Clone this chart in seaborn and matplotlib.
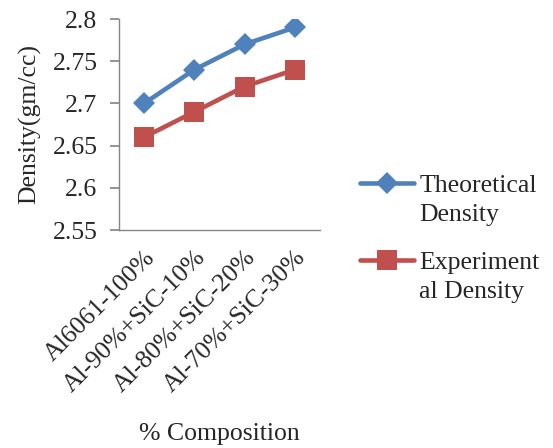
import matplotlib
matplotlib.use("Agg")
import matplotlib.pyplot as plt
from matplotlib.lines import Line2D
import seaborn as sns
import pandas as pd

compositions = ["Al6061-100%", "Al-90%+SiC-10%", "Al-80%+SiC-20%", "Al-70%+SiC-30%"]
theoretical = [2.70, 2.74, 2.77, 2.79]
experimental = [2.66, 2.69, 2.72, 2.74]
series_names = ["Theoretical Density", "Experimental Density"]
legend_lines = [["Theoretical", "Density"], ["Experiment", "al Density"]]
y_ticks = [2.55, 2.6, 2.65, 2.7, 2.75, 2.8]
y_tick_labels = ["2.55", "2.6", "2.65", "2.7", "2.75", "2.8"]

df = pd.DataFrame({
    "Composition": compositions * 2,
    "Density": theoretical + experimental,
    "Series": [series_names[0]] * 4 + [series_names[1]] * 4,
})
df["pos"] = list(range(len(compositions))) * 2

sns.set_theme(style="white")
plt.rcParams["font.family"] = ["Liberation Serif", "DejaVu Serif"]

FS = 18.5
fig = plt.figure(figsize=(5.53, 4.48), dpi=100)
ax = fig.add_axes([119 / 553, 1 - 230 / 448, 201 / 553, 211 / 448])

palette = {series_names[0]: "#4F81BD", series_names[1]: "#C0504D"}
markers = {series_names[0]: "D", series_names[1]: "s"}
sizes_ms = {series_names[0]: 11, series_names[1]: 14}

for name in series_names:
    sub = df[df["Series"] == name]
    sns.lineplot(data=sub, x="pos", y="Density", ax=ax, color=palette[name],
                 marker=markers[name], markersize=sizes_ms[name], linewidth=3.3,
                 markeredgewidth=0, label=name)

ax.set_xlim(-0.5, len(compositions) - 0.5)
ax.set_ylim(2.55, 2.8)
ax.set_yticks(y_ticks)
ax.set_yticklabels(y_tick_labels, fontsize=FS)
ax.set_xticks(range(len(compositions)))
ax.set_xticklabels(compositions, rotation=45, ha="right", rotation_mode="anchor", fontsize=FS)
ax.set_xlabel("% Composition", fontsize=FS, labelpad=19)
ax.set_ylabel("Density(gm/cc)", fontsize=FS, labelpad=8)

for side in ["top", "right"]:
    ax.spines[side].set_visible(False)
for side in ["left", "bottom"]:
    ax.spines[side].set_color("#868686")
    ax.spines[side].set_linewidth(1)
ax.tick_params(axis="y", which="both", left=True, length=6.5, color="#868686", pad=9)
ax.tick_params(axis="x", bottom=False, pad=6)

handles, labels = ax.get_legend_handles_labels()
ax.legend_.remove()

# One legend block per series: the marker sits on the first text line
blank = Line2D([], [], color="none")
anchors_y = [156, 233]
for h, lines, y in zip(handles, legend_lines, anchors_y):
    leg = fig.legend([h, blank], lines, loc="upper left",
                     bbox_to_anchor=(342 / 553, 1 - y / 448),
                     frameon=False, fontsize=FS, handlelength=2.1,
                     labelspacing=0.25, handletextpad=0.2, borderpad=0.2)

fig.savefig("out.png", dpi=100)
